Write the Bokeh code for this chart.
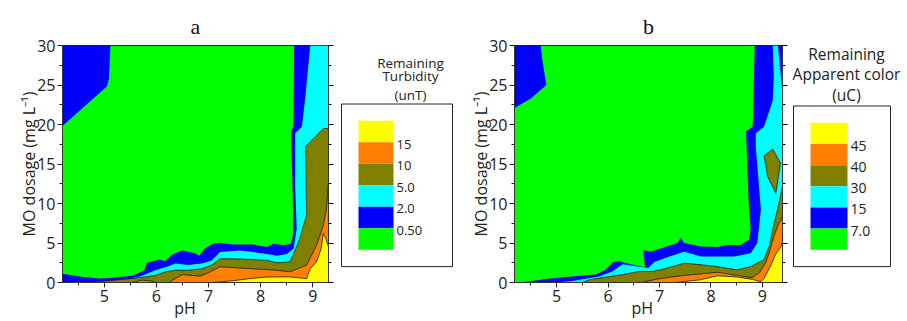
from bokeh.plotting import figure
from bokeh.models import Range1d, LinearAxis, SingleIntervalTicker, CustomJSTickFormatter
from bokeh.layouts import row
from bokeh.embed import file_html
from bokeh.resources import INLINE
from bokeh.core.properties import value

# ---------------- data ----------------
# band colours, lowest level -> highest level
BAND_COLORS = ["#00FF00", "#0000FF", "#00FFFF", "#808000", "#FF8000", "#FFFF00"]

A_LEVEL_LABELS = ["0.50", "2.0", "5.0", "10", "15"]
B_LEVEL_LABELS = ["7.0", "15", "30", "40", "45"]
A_LEGEND_TITLE = ["Remaining", "Turbidity", "(unT)"]
B_LEGEND_TITLE = ["Remaining", "Apparent color", "(uC)"]

A_PH_RANGE = [4.2, 9.3]
B_PH_RANGE = [4.18, 9.39]
DOSE_RANGE = [0, 30]

# ---- panel a : contour regions (pH, MO dosage) ----
A_BLUE_TL_PH = [4.2, 5.12, 5.09, 5.05, 4.2]
A_BLUE_TL_DOSE = [30, 30, 25.8, 24.8, 19.8]

A_BLUE_PH = [8.64, 8.63, 8.58, 8.61, 8.63, 8.58, 8.44, 8.24, 8.12, 7.86, 7.48, 7.22, 7.09, 6.93,
             6.82, 6.74, 6.49, 6.3, 6.17, 6.07, 5.82, 5.77, 5.56, 5.18, 4.92, 4.6, 4.2, 4.2, 9.3, 9.3]
A_BLUE_DOSE = [30, 19.7, 19.1, 12.2, 6.4, 4.9, 4.7, 4.9, 4.5, 4.8, 4.8, 5.0, 4.9, 4.3,
               3.4, 3.7, 4.05, 3.5, 2.7, 2.9, 2.5, 1.55, 0.9, 0.6, 0.5, 0.7, 1.1, 0, 0, 30]

A_CYAN_PH = [8.95, 8.85, 8.79, 8.66, 8.66, 8.69, 8.63, 8.5, 8.31, 8.12, 7.86, 7.6, 7.22, 7.06,
             6.87, 6.61, 6.36, 6.23, 5.98, 5.7, 5.3, 4.6, 9.3, 9.3]
A_CYAN_DOSE = [30, 23.1, 19.7, 18.9, 12.2, 6.8, 4.3, 3.6, 3.4, 3.6, 3.85, 4.05, 3.85, 2.8,
               2.4, 2.2, 2.4, 2.05, 1.55, 0.8, 0.2, 0, 0, 30]

A_OLIVE_PH = [4.69, 5.02, 5.34, 5.79, 5.98, 6.17, 6.36, 6.61, 6.87, 7.06, 7.22, 7.48, 7.86, 8.12,
              8.31, 8.56, 8.72, 8.88, 8.86, 9.2, 9.3, 9.3]
A_OLIVE_DOSE = [0, 0.2, 0.38, 0.7, 0.9, 1.35, 1.55, 1.55, 1.75, 2.2, 3.0, 3.0, 2.9, 2.8,
                2.5, 2.6, 5.0, 8.5, 17.2, 19.5, 19.5, 0]

A_ORANGE_PH = [6.23, 6.5, 6.84, 7.03, 7.22, 7.8, 8.31, 8.56, 8.88, 9.07, 9.2, 9.26, 9.3, 9.3]
A_ORANGE_DOSE = [0, 1.0, 0.8, 1.35, 2.0, 1.75, 1.55, 1.35, 2.2, 4.7, 7.2, 9.3, 12.8, 0]
A_ORANGE2_PH = [5.55, 5.72, 5.9, 5.98]
A_ORANGE2_DOSE = [0, 0.3, 0.2, 0]

A_YELLOW_PH = [7.1, 7.5, 7.8, 8.12, 8.56, 8.88, 8.95, 9.07, 9.16, 9.2, 9.25, 9.3, 9.3]
A_YELLOW_DOSE = [0, 0.25, 0.5, 0.7, 0.7, 0.5, 1.75, 2.6, 4.3, 6.2, 5.5, 4.5, 0]

# ---- panel b : contour regions (pH, MO dosage) ----
B_BLUE_TL_PH = [4.18, 4.69, 4.72, 4.8, 4.5, 4.18]
B_BLUE_TL_DOSE = [30, 30, 28.2, 25.0, 23.3, 22.1]

B_BLUE_PH = [8.85, 8.81, 8.68, 8.73, 8.77, 8.74, 8.58, 8.32, 8.13, 7.8, 7.48, 7.41, 7.35, 6.83,
             6.68, 6.72, 6.2, 6.1, 5.95, 5.76, 5.3, 4.88, 4.4, 4.18, 9.4, 9.4]
B_BLUE_DOSE = [30, 19.7, 19.1, 10.5, 6.7, 5.4, 4.75, 4.75, 4.5, 4.55, 5.0, 5.65, 5.0, 3.9,
               4.1, 1.9, 2.7, 2.6, 1.6, 1.0, 0.75, 0.5, 0.1, 0, 0, 30]

B_CYAN_PH = [9.2, 9.3, 9.38, 9.4, 9.4, 4.98, 5.3, 5.82, 6.08, 6.28, 6.6, 6.78, 6.9, 7.15, 7.48,
             7.8, 8.45, 8.77, 8.9, 8.97, 8.87, 8.87, 9.03, 9.2, 9.22]
B_CYAN_DOSE = [30, 30, 24.5, 23, 0, 0, 0.2, 0.75, 1.4, 2.3, 2.0, 1.85, 2.6, 3.2, 3.9,
               3.3, 3.3, 3.7, 5.0, 9.2, 17.2, 18.9, 19.7, 23.0, 26]

B_OLIVE_PH = [5.5, 5.63, 6.28, 6.6, 6.86, 7.02, 7.48, 7.8, 8.13, 8.5, 8.77, 9.03, 9.13, 9.2,
              9.26, 9.32, 9.4, 9.4]
B_OLIVE_DOSE = [0, 0.35, 1.0, 1.4, 1.4, 1.6, 2.45, 2.25, 2.0, 1.6, 2.0, 2.9, 4.55, 6.7,
                8.35, 10.0, 12.5, 0]
B_OLIVE2_PH = [9.03, 9.2, 9.35, 9.26, 9.1, 9.07]
B_OLIVE2_DOSE = [16, 16.9, 15.1, 11.3, 13.4, 14.7]

B_ORANGE_PH = [6.65, 7.0, 7.48, 8.13, 8.5, 8.8, 8.95, 9.07, 9.15, 9.22, 9.3, 9.4, 9.4]
B_ORANGE_DOSE = [0, 0.5, 0.9, 1.3, 0.9, 0.6, 1.3, 2.6, 4.2, 5.8, 7.2, 8.5, 0]

B_YELLOW_PH = [7.3, 7.8, 8.13, 8.5, 8.8, 8.97, 9.03, 9.15, 9.26, 9.36, 9.4, 9.4]
B_YELLOW_DOSE = [0, 0.35, 0.85, 0.7, 0.4, 0.1, 0.5, 2.0, 3.6, 4.5, 5.4, 0]

FONT = "Open Sans"
H = 321
TOP = 45      # frame top (px)
BOTTOM = 37   # border below frame (px)
NBSP = "\u00a0"


def build_main(title, ph_range, border_left, frame_w, border_right, bands, xlabel_pad):
    width = border_left + frame_w + border_right
    p = figure(width=width, height=H, x_range=Range1d(*ph_range), y_range=Range1d(*DOSE_RANGE),
               toolbar_location=None, output_backend="svg",
               min_border_left=border_left, min_border_right=border_right,
               min_border_top=TOP, min_border_bottom=BOTTOM)
    p.background_fill_color = BAND_COLORS[0]
    p.border_fill_color = "white"
    p.outline_line_color = "#222222"
    p.grid.visible = False

    for level, polys in enumerate(bands, start=1):
        outlined = level >= 3
        p.patches(xs=[pp[0] for pp in polys], ys=[pp[1] for pp in polys],
                  fill_color=BAND_COLORS[level],
                  line_color="#1a1a1a" if outlined else None,
                  line_width=0.8 if outlined else 0)

    p.xaxis.ticker = SingleIntervalTicker(interval=1, num_minor_ticks=2)
    p.yaxis.ticker = SingleIntervalTicker(interval=5, num_minor_ticks=2)
    # trailing no-break spaces nudge the centred "pH" a little to the left, as in the original
    p.xaxis.axis_label = "pH" + NBSP * xlabel_pad
    p.yaxis.axis_label = "MO dosage (mg L⁻¹)"
    for ax in (p.xaxis[0], p.yaxis[0]):
        ax.axis_line_color = "#333333"
        ax.major_tick_line_color = "#222222"
        ax.minor_tick_line_color = "#222222"
        ax.major_tick_out = 5
        ax.major_tick_in = 0
        ax.minor_tick_out = 3
        ax.minor_tick_in = 0
        ax.major_label_text_font = FONT
        ax.major_label_text_font_size = "16px"
        ax.major_label_text_color = "#222222"
        ax.axis_label_text_font = FONT
        ax.axis_label_text_font_size = "16px"
        ax.axis_label_text_font_style = "normal"
        ax.axis_label_text_color = "#222222"
        ax.major_label_standoff = 2
    p.xaxis[0].axis_label_standoff = -8
    p.yaxis[0].axis_label_standoff = -6

    right = LinearAxis(ticker=SingleIntervalTicker(interval=5, num_minor_ticks=2),
                       formatter=CustomJSTickFormatter(code="return ''"))
    right.axis_line_color = "#333333"
    right.major_tick_out = 5
    right.major_tick_in = 0
    right.minor_tick_out = 3
    right.minor_tick_in = 0
    p.add_layout(right, "right")

    p.title.text = title
    p.title.align = "center"
    p.title.text_font = "Liberation Serif"
    p.title.text_font_size = "22px"
    p.title.text_font_style = "normal"
    p.title.text_color = "#111111"
    p.title.standoff = 14
    return p


def build_legend(width, box, bar, labels, titles, title_x, title_ys, font_size, title_size):
    # y range is expressed in page pixels (frame spans TOP .. H-BOTTOM)
    f = figure(width=width, height=H, x_range=Range1d(0, width), y_range=Range1d(H - BOTTOM, TOP),
               toolbar_location=None, output_backend="svg",
               x_axis_location=None, y_axis_location=None,
               min_border_left=0, min_border_right=0, min_border_top=TOP, min_border_bottom=BOTTOM)
    f.grid.visible = False
    f.outline_line_color = None
    f.background_fill_color = "white"
    f.border_fill_color = "white"

    n = len(BAND_COLORS)
    bx0, by0, bx1, by1 = bar
    h = (by1 - by0) / n
    tops = [by0 + i * h for i in range(n)]
    cols = list(reversed(BAND_COLORS))
    f.quad(left=[bx0] * n, right=[bx1] * n, top=tops, bottom=[t + h for t in tops],
           fill_color=cols, line_color=None)
    f.quad(left=[box[0]], right=[box[2]], top=[box[1]], bottom=[box[3]],
           fill_color=None, line_color="#222222", line_width=1)
    lab = list(reversed(labels))
    f.text(x=[bx1 + 3] * len(lab), y=[by0 + (i + 1) * h + 2 for i in range(len(lab))], text=lab,
           text_font=value(FONT), text_font_size=value(font_size), text_color="#222222",
           text_align="left", text_baseline="middle")
    f.text(x=[title_x] * len(titles), y=title_ys, text=titles,
           text_font=value(FONT), text_font_size=value(title_size), text_color="#222222",
           text_align="center", text_baseline="alphabetic")
    return f


a_bands = [
    [(A_BLUE_TL_PH, A_BLUE_TL_DOSE), (A_BLUE_PH, A_BLUE_DOSE)],
    [(A_CYAN_PH, A_CYAN_DOSE)],
    [(A_OLIVE_PH, A_OLIVE_DOSE)],
    [(A_ORANGE_PH, A_ORANGE_DOSE), (A_ORANGE2_PH, A_ORANGE2_DOSE)],
    [(A_YELLOW_PH, A_YELLOW_DOSE)],
]
b_bands = [
    [(B_BLUE_TL_PH, B_BLUE_TL_DOSE), (B_BLUE_PH, B_BLUE_DOSE)],
    [(B_CYAN_PH, B_CYAN_DOSE)],
    [(B_OLIVE_PH, B_OLIVE_DOSE), (B_OLIVE2_PH, B_OLIVE2_DOSE)],
    [(B_ORANGE_PH, B_ORANGE_DOSE)],
    [(B_YELLOW_PH, B_YELLOW_DOSE)],
]

pa = build_main("a", A_PH_RANGE, 62, 266, 8, a_bands, 5)
la = build_legend(117, (5, 104, 116, 268), (22, 121, 57, 251), A_LEVEL_LABELS,
                  A_LEGEND_TITLE, 74, [63, 76, 95], "13px", "13.5px")
pb = build_main("b", B_PH_RANGE, 61, 268, 9, b_bands, 3)
lb = build_legend(116, (2, 106, 99, 268), (19, 123, 56, 251), B_LEVEL_LABELS,
                  B_LEGEND_TITLE, 55, [54, 73.5, 95], "14px", "15.5px")

layout = row(pa, la, pb, lb, spacing=0)
open("out.html", "w").write(file_html(layout, INLINE))
